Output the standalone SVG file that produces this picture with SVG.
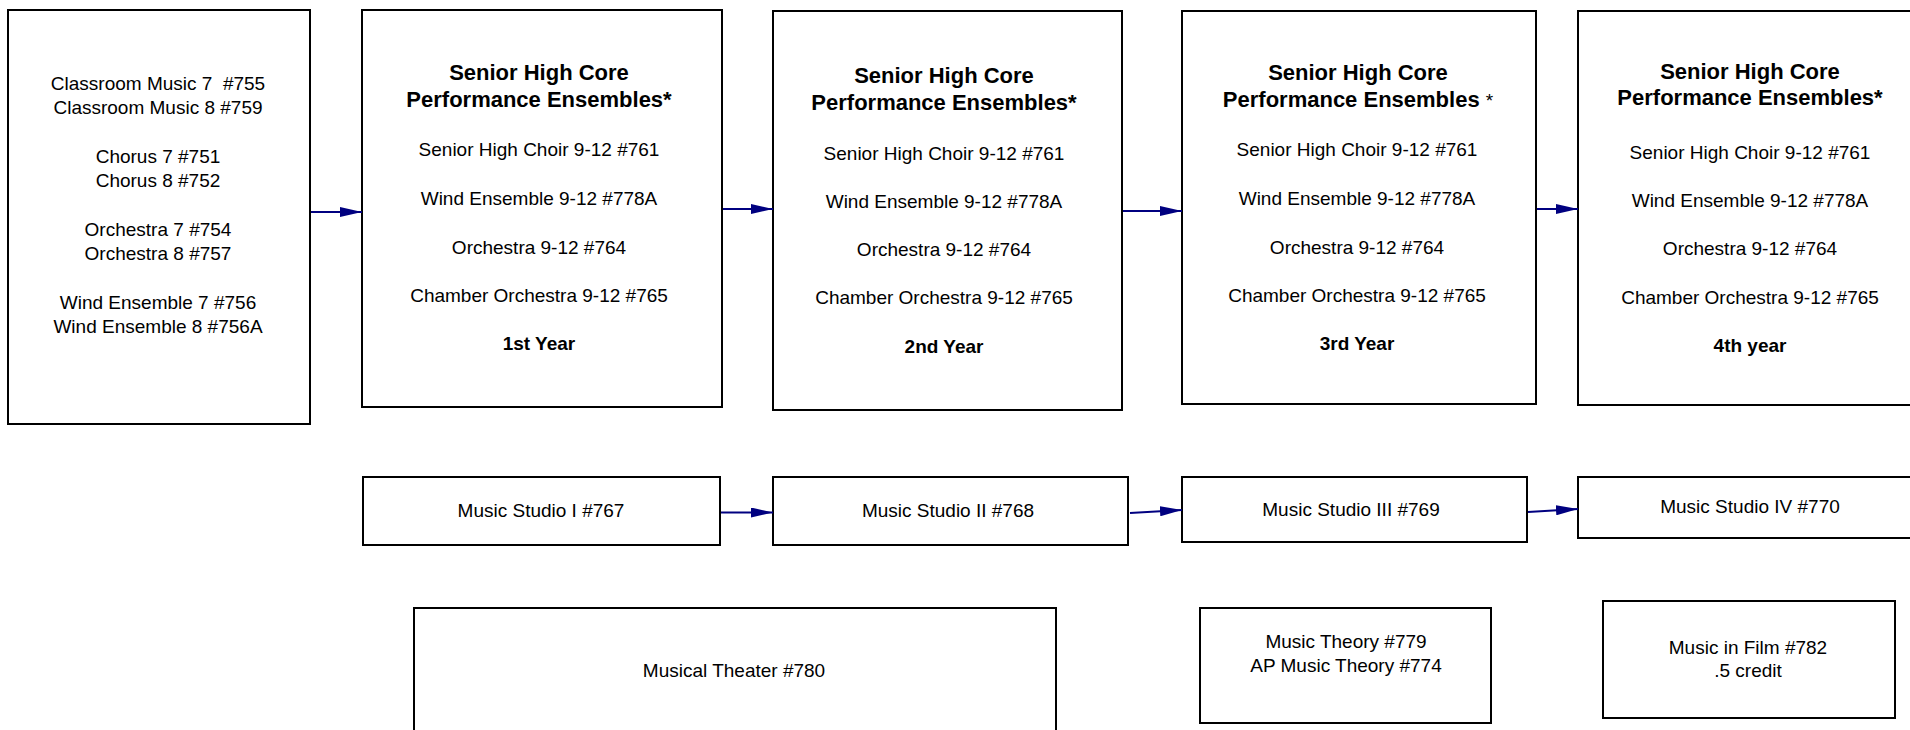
<svg xmlns="http://www.w3.org/2000/svg" width="1910" height="730" viewBox="0 0 1910 730">
<defs>
<style>
.box{fill:#fff;stroke:#000;stroke-width:2}
.t{font-family:"Liberation Sans",Arial,sans-serif;font-size:19px;fill:#000;text-anchor:middle}
.b{font-weight:bold}
.h{font-family:"Liberation Sans",Arial,sans-serif;font-size:22px;font-weight:bold;fill:#000;text-anchor:middle}
.c{fill:none;stroke:#000080;stroke-width:2}
</style>
<marker id="ah" markerUnits="userSpaceOnUse" markerWidth="22" markerHeight="10" refX="22" refY="5" orient="auto">
<path d="M0,0 L22,5 L0,10 z" fill="#000080"/>
</marker>
</defs>
<rect width="1910" height="730" fill="#fff"/>

<g id="n-junior">
<rect class="box" x="8" y="10" width="302" height="414"/>
<text class="t" x="158" y="89.5">Classroom Music 7&#160; #755</text>
<text class="t" x="158" y="114">Classroom Music 8 #759</text>
<text class="t" x="158" y="162.5">Chorus 7 #751</text>
<text class="t" x="158" y="187">Chorus 8 #752</text>
<text class="t" x="158" y="235.5">Orchestra 7 #754</text>
<text class="t" x="158" y="260">Orchestra 8 #757</text>
<text class="t" x="158" y="308.5">Wind Ensemble 7 #756</text>
<text class="t" x="158" y="333">Wind Ensemble 8 #756A</text>
</g>

<g id="n-year1">
<rect class="box" x="362" y="10" width="360" height="397"/>
<text class="h" x="539" y="80">Senior High Core</text>
<text class="h" x="539" y="106.5">Performance Ensembles*</text>
<text class="t" x="539" y="156">Senior High Choir 9-12 #761</text>
<text class="t" x="539" y="205">Wind Ensemble 9-12 #778A</text>
<text class="t" x="539" y="253.5">Orchestra 9-12 #764</text>
<text class="t" x="539" y="301.5">Chamber Orchestra 9-12 #765</text>
<text class="t b" x="539" y="350">1st Year</text>
</g>

<g id="n-year2">
<rect class="box" x="773" y="11" width="349" height="399"/>
<text class="h" x="944" y="82.5">Senior High Core</text>
<text class="h" x="944" y="110">Performance Ensembles*</text>
<text class="t" x="944" y="159.5">Senior High Choir 9-12 #761</text>
<text class="t" x="944" y="207.5">Wind Ensemble 9-12 #778A</text>
<text class="t" x="944" y="256">Orchestra 9-12 #764</text>
<text class="t" x="944" y="304">Chamber Orchestra 9-12 #765</text>
<text class="t b" x="944" y="352.5">2nd Year</text>
</g>

<g id="n-year3">
<rect class="box" x="1182" y="11" width="354" height="393"/>
<text class="h" x="1358" y="80">Senior High Core</text>
<text class="h" x="1358" y="106.5">Performance Ensembles <tspan font-weight="normal" font-size="19">*</tspan></text>
<text class="t" x="1357" y="156">Senior High Choir 9-12 #761</text>
<text class="t" x="1357" y="205">Wind Ensemble 9-12 #778A</text>
<text class="t" x="1357" y="253.5">Orchestra 9-12 #764</text>
<text class="t" x="1357" y="301.5">Chamber Orchestra 9-12 #765</text>
<text class="t b" x="1357" y="350">3rd Year</text>
</g>

<g id="n-year4">
<rect class="box" x="1578" y="11" width="345" height="394"/>
<text class="h" x="1750" y="78.5">Senior High Core</text>
<text class="h" x="1750" y="105">Performance Ensembles*</text>
<text class="t" x="1750" y="158.5">Senior High Choir 9-12 #761</text>
<text class="t" x="1750" y="206.5">Wind Ensemble 9-12 #778A</text>
<text class="t" x="1750" y="255">Orchestra 9-12 #764</text>
<text class="t" x="1750" y="303.5">Chamber Orchestra 9-12 #765</text>
<text class="t b" x="1750" y="351.5">4th year</text>
</g>

<g id="n-studio1">
<rect class="box" x="363" y="477" width="357" height="68"/>
<text class="t" x="541" y="517">Music Studio I #767</text>
</g>
<g id="n-studio2">
<rect class="box" x="773" y="477" width="355" height="68"/>
<text class="t" x="948" y="517">Music Studio II #768</text>
</g>
<g id="n-studio3">
<rect class="box" x="1182" y="477" width="345" height="65"/>
<text class="t" x="1351" y="516">Music Studio III #769</text>
</g>
<g id="n-studio4">
<rect class="box" x="1578" y="477" width="345" height="61"/>
<text class="t" x="1750" y="513">Music Studio IV #770</text>
</g>

<g id="n-theater">
<rect class="box" x="414" y="608" width="642" height="140"/>
<text class="t" x="734" y="677">Musical Theater #780</text>
</g>
<g id="n-theory">
<rect class="box" x="1200" y="608" width="291" height="115"/>
<text class="t" x="1346" y="647.5">Music Theory #779</text>
<text class="t" x="1346" y="672">AP Music Theory #774</text>
</g>
<g id="n-film">
<rect class="box" x="1603" y="601" width="292" height="117"/>
<text class="t" x="1748" y="654">Music in Film #782</text>
<text class="t" x="1748" y="677">.5 credit</text>
</g>

<g id="connectors">
<line class="c" x1="311" y1="212" x2="362" y2="212" marker-end="url(#ah)"/>
<line class="c" x1="723" y1="209" x2="773" y2="209" marker-end="url(#ah)"/>
<line class="c" x1="1123" y1="211" x2="1182" y2="211" marker-end="url(#ah)"/>
<line class="c" x1="1537" y1="209" x2="1578" y2="209" marker-end="url(#ah)"/>
<line class="c" x1="721" y1="512.5" x2="773" y2="512.5" marker-end="url(#ah)"/>
<line class="c" x1="1130" y1="513" x2="1182" y2="510" marker-end="url(#ah)"/>
<line class="c" x1="1528" y1="512" x2="1578" y2="509" marker-end="url(#ah)"/>
</g>
</svg>
